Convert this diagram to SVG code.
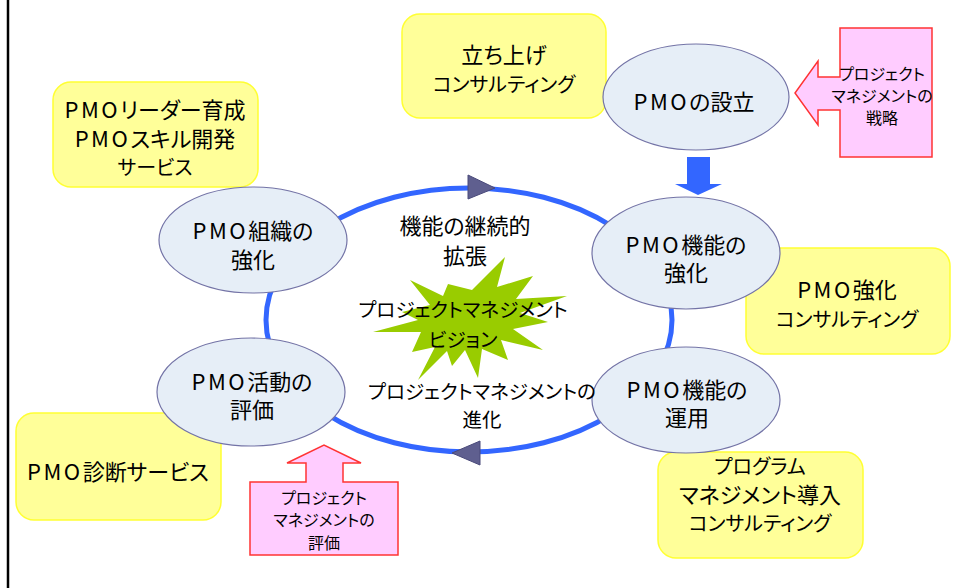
<svg xmlns="http://www.w3.org/2000/svg" width="954" height="588" viewBox="0 0 954 588">
<style>
.t{font-family:"Noto Sans CJK JP","Noto Sans",sans-serif;font-size:22px;text-anchor:middle;fill:#000;font-feature-settings:"palt" 1;dominant-baseline:central}
.k{font-size:20px}
.s{font-size:19.5px}
.xs{font-size:16px}
.p{letter-spacing:2.5px}
.box{fill:#FFFF99;stroke:#FFFF33;stroke-width:1.5}
.ell{fill:#E6EEF7;stroke:#7373A6;stroke-width:1.2}
.pink{fill:#FFCCFF;stroke:#FF3333;stroke-width:1.5}
.tri{fill:#5F5F8F;stroke:#4A4A7A;stroke-width:1}
</style>
<rect width="954" height="588" fill="#fff"/>
<line x1="8" y1="0" x2="8" y2="588" stroke="#000" stroke-width="2.5"/>

<g id="connectors">
  <ellipse cx="469" cy="320" rx="203" ry="132" fill="none" stroke="#3366FF" stroke-width="5"/>
  <polygon class="tri" points="468,175 495,188 468,199"/>
  <polygon class="tri" points="480,441 452,453 480,465"/>
  <polygon points="687,157 710,157 710,184 722,184 698,195 675,184 687,184" fill="#3366FF"/>
</g>

<g id="burst">
  <polygon fill="#99CC00" points="505,257 497,287 533,276 516,299 567,296 520,313 548,322 513,329 543,350 501,340 508,360 482,349 478,378 465,350 452,366 447,351 418,380 435,347 412,352 421,332 373,332 418,320 402,312 430,305 410,280 443,296 448,284 472,290"/>
</g>

<g id="box-launch">
  <rect class="box" x="402" y="14" width="204" height="104" rx="18"/>
  <text class="t" x="504" y="53" font-size="21">立ち上げ</text>
  <text class="t k" x="504" y="83">コンサルティング</text>
</g>
<g id="box-leader">
  <rect class="box" x="53" y="82" width="205" height="105" rx="18"/>
  <text class="t" x="155" y="108" font-size="21"><tspan class="p">PMO</tspan>リーダー育成</text>
  <text class="t" x="155" y="137" font-size="21"><tspan class="p">PMO</tspan>スキル開発</text>
  <text class="t k" x="155" y="166">サービス</text>
</g>
<g id="box-strengthen">
  <rect class="box" x="746" y="248" width="204" height="106" rx="18"/>
  <text class="t" x="847" y="288" font-size="21"><tspan class="p">PMO</tspan>強化</text>
  <text class="t k" x="847" y="318">コンサルティング</text>
</g>
<g id="box-program">
  <rect class="box" x="658" y="452" width="205" height="106" rx="18"/>
  <text class="t k" x="760" y="465">プログラム</text>
  <text class="t" x="760" y="493" font-size="21">マネジメント導入</text>
  <text class="t k" x="760" y="522">コンサルティング</text>
</g>
<g id="box-diagnosis">
  <rect class="box" x="16" y="413" width="205" height="107" rx="18"/>
  <text class="t" x="118" y="470" font-size="21"><tspan class="p">PMO</tspan>診断サービス</text>
</g>

<g id="node-setup">
  <ellipse class="ell" cx="696" cy="97" rx="93" ry="53"/>
  <text class="t" x="694" y="100"><tspan class="p">PMO</tspan>の設立</text>
</g>
<g id="node-func-strengthen">
  <ellipse class="ell" cx="686" cy="253" rx="94" ry="56"/>
  <text class="t" x="686" y="243"><tspan class="p">PMO</tspan>機能の</text>
  <text class="t" x="686" y="271">強化</text>
</g>
<g id="node-func-operate">
  <ellipse class="ell" cx="686" cy="400" rx="94" ry="53"/>
  <text class="t" x="687" y="388"><tspan class="p">PMO</tspan>機能の</text>
  <text class="t" x="687" y="416">運用</text>
</g>
<g id="node-org">
  <ellipse class="ell" cx="253" cy="240" rx="94" ry="53"/>
  <text class="t" x="253" y="229"><tspan class="p">PMO</tspan>組織の</text>
  <text class="t" x="253" y="258">強化</text>
</g>
<g id="node-eval">
  <ellipse class="ell" cx="251" cy="392" rx="94" ry="54"/>
  <text class="t" x="252" y="380"><tspan class="p">PMO</tspan>活動の</text>
  <text class="t" x="252" y="408">評価</text>
</g>

<g id="labels">
  <text class="t" x="465" y="224" font-size="21">機能の継続的</text>
  <text class="t" x="465" y="254" font-size="21">拡張</text>
  <text class="t s" x="463" y="308">プロジェクトマネジメント</text>
  <text class="t s" x="463" y="338">ビジョン</text>
  <text class="t s" x="482" y="390">プロジェクトマネジメントの</text>
  <text class="t s" x="482" y="418">進化</text>
</g>

<g id="callout-strategy">
  <path class="pink" d="M840,28 H932 V157 H840 V110 H818 V125 L795,93 L818,61 V77 H840 Z"/>
  <text class="t xs" x="882" y="73">プロジェクト</text>
  <text class="t xs" x="882" y="95">マネジメントの</text>
  <text class="t xs" x="882" y="117">戦略</text>
</g>
<g id="callout-eval">
  <path class="pink" d="M250,482 H306 V463 H287 L324,445 L361,463 H343 V482 H398 V555 H250 Z"/>
  <text class="t xs" x="324" y="497">プロジェクト</text>
  <text class="t xs" x="324" y="519">マネジメントの</text>
  <text class="t xs" x="324" y="542">評価</text>
</g>
</svg>
